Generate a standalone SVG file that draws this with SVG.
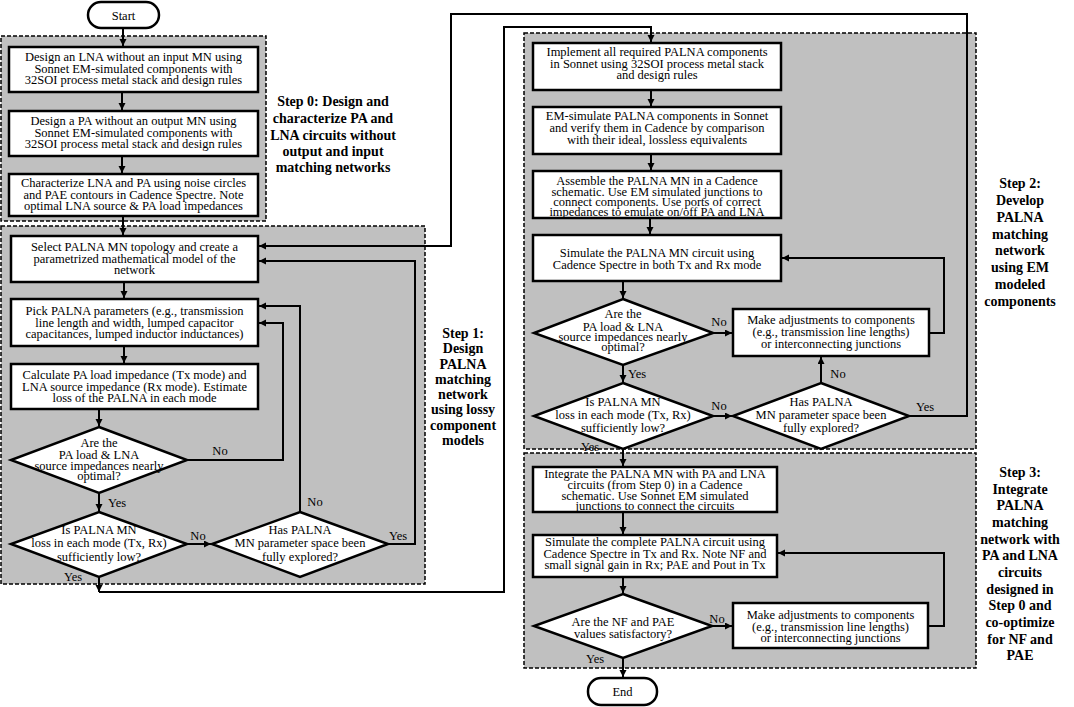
<svg xmlns="http://www.w3.org/2000/svg" width="1074" height="707" viewBox="0 0 1074 707">
<style>
.grp{fill:#c0c0c0;stroke:#000;stroke-width:1.5;stroke-dasharray:4 2}
.box{fill:#fff;stroke:#000;stroke-width:2.5}
.t{font-family:"Liberation Serif","Times New Roman",serif;font-size:12.5px;text-anchor:middle;fill:#000}
.s{font-family:"Liberation Serif","Times New Roman",serif;font-size:14px;font-weight:bold;text-anchor:middle;fill:#000}
.c{fill:none;stroke:#000;stroke-width:2}
</style>
<defs>
<marker id="ah" markerUnits="userSpaceOnUse" markerWidth="8" markerHeight="8" refX="7" refY="3.5" orient="auto">
<path d="M0,0 L7,3.5 L0,7 z" fill="#000"/>
</marker>
</defs>
<rect width="1074" height="707" fill="#fff"/>
<g id="step-groups">
<rect class="grp" x="1" y="36" width="265" height="185"/>
<rect class="grp" x="1" y="226" width="424" height="358"/>
<rect class="grp" x="524" y="33" width="452" height="416"/>
<rect class="grp" x="524" y="453" width="452" height="215"/>
</g>
<g id="step-labels">
<text class="s"><tspan x="333" y="106">Step 0: Design and</tspan><tspan x="333" y="123">characterize PA and</tspan><tspan x="333" y="140">LNA circuits without</tspan><tspan x="333" y="156">output and input</tspan><tspan x="333" y="172">matching networks</tspan></text>
<text class="s"><tspan x="463" y="338">Step 1:</tspan><tspan x="463" y="353">Design</tspan><tspan x="463" y="368.5">PALNA</tspan><tspan x="463" y="384">matching</tspan><tspan x="463" y="399">network</tspan><tspan x="463" y="414">using lossy</tspan><tspan x="463" y="429.5">component</tspan><tspan x="463" y="445">models</tspan></text>
<text class="s"><tspan x="1020" y="188">Step 2:</tspan><tspan x="1020" y="205">Develop</tspan><tspan x="1020" y="222">PALNA</tspan><tspan x="1020" y="238.5">matching</tspan><tspan x="1020" y="255">network</tspan><tspan x="1020" y="272">using EM</tspan><tspan x="1020" y="289">modeled</tspan><tspan x="1020" y="306">components</tspan></text>
<text class="s"><tspan x="1020" y="477">Step 3:</tspan><tspan x="1020" y="493.5">Integrate</tspan><tspan x="1020" y="510">PALNA</tspan><tspan x="1020" y="527">matching</tspan><tspan x="1020" y="543.5">network with</tspan><tspan x="1020" y="560">PA and LNA</tspan><tspan x="1020" y="577">circuits</tspan><tspan x="1020" y="593.5">designed in</tspan><tspan x="1020" y="610">Step 0 and</tspan><tspan x="1020" y="627">co-optimize</tspan><tspan x="1020" y="643.5">for NF and</tspan><tspan x="1020" y="660">PAE</tspan></text>
</g>
<g id="connectors">
<path class="c" d="M123,28 V46" marker-end="url(#ah)"/>
<path class="c" d="M122,92 V110" marker-end="url(#ah)"/>
<path class="c" d="M122,156 V173" marker-end="url(#ah)"/>
<path class="c" d="M123,216 V235" marker-end="url(#ah)"/>
<path class="c" d="M124,282 V298" marker-end="url(#ah)"/>
<path class="c" d="M124,346 V363" marker-end="url(#ah)"/>
<path class="c" d="M99,409 V426" marker-end="url(#ah)"/>
<path class="c" d="M99,493 V511" marker-end="url(#ah)"/>
<path class="c" d="M187,544 H211" marker-end="url(#ah)"/>
<path class="c" d="M187,460 H283 V323 H259" marker-end="url(#ah)"/>
<path class="c" d="M300,512 V306 H259" marker-end="url(#ah)"/>
<path class="c" d="M388,544 H415 V261 H259" marker-end="url(#ah)"/>
<path class="c" d="M99,577 V592" marker-end="url(#ah)"/>
<path class="c" d="M99,592 H504 V27 H651 V42" marker-end="url(#ah)"/>
<path class="c" d="M909,416 H967 V14 H451 V246 H259" marker-end="url(#ah)"/>
<path class="c" d="M651,90 V106" marker-end="url(#ah)"/>
<path class="c" d="M651,154 V170" marker-end="url(#ah)"/>
<path class="c" d="M650,218 V234" marker-end="url(#ah)"/>
<path class="c" d="M623,281 V298" marker-end="url(#ah)"/>
<path class="c" d="M713,333 H732" marker-end="url(#ah)"/>
<path class="c" d="M623,365 V382" marker-end="url(#ah)"/>
<path class="c" d="M713,416 H732" marker-end="url(#ah)"/>
<path class="c" d="M821,383 V357" marker-end="url(#ah)"/>
<path class="c" d="M929,333 H944 V258 H782" marker-end="url(#ah)"/>
<path class="c" d="M623,449 V466" marker-end="url(#ah)"/>
<path class="c" d="M623,512 V534" marker-end="url(#ah)"/>
<path class="c" d="M623,577 V593" marker-end="url(#ah)"/>
<path class="c" d="M712,626 H732" marker-end="url(#ah)"/>
<path class="c" d="M928,626 H944 V553 H778" marker-end="url(#ah)"/>
<path class="c" d="M623,658 V677" marker-end="url(#ah)"/>
</g>
<g id="connector-labels">
<text class="t" x="220" y="455">No</text>
<text class="t" x="117" y="507">Yes</text>
<text class="t" x="198" y="540">No</text>
<text class="t" x="315" y="506">No</text>
<text class="t" x="398" y="540">Yes</text>
<text class="t" x="73" y="581">Yes</text>
<text class="t" x="719" y="326">No</text>
<text class="t" x="637" y="378">Yes</text>
<text class="t" x="719" y="410">No</text>
<text class="t" x="838" y="378">No</text>
<text class="t" x="925" y="411">Yes</text>
<text class="t" x="590" y="451">Yes</text>
<text class="t" x="717" y="623">No</text>
<text class="t" x="595" y="663">Yes</text>
</g>
<g id="start">
<rect class="box" x="88" y="2" width="71" height="26" rx="13"/>
<text class="t" x="123.5" y="19.5">Start</text>
</g>
<g id="s0-design-lna">
<rect class="box" x="9" y="47" width="249" height="45"/>
<text class="t"><tspan x="133.5" y="61">Design an LNA without an input MN using</tspan><tspan x="133.5" y="72.5">Sonnet EM-simulated components with</tspan><tspan x="133.5" y="84">32SOI process metal stack and design rules</tspan></text>
</g>
<g id="s0-design-pa">
<rect class="box" x="9" y="111" width="249" height="45"/>
<text class="t"><tspan x="133.5" y="125">Design a PA without an output MN using</tspan><tspan x="133.5" y="136.5">Sonnet EM-simulated components with</tspan><tspan x="133.5" y="148">32SOI process metal stack and design rules</tspan></text>
</g>
<g id="s0-characterize">
<rect class="box" x="9" y="174" width="249" height="42"/>
<text class="t"><tspan x="133.5" y="187">Characterize LNA and PA using noise circles</tspan><tspan x="133.5" y="198.5">and PAE contours in Cadence Spectre. Note</tspan><tspan x="133.5" y="210">optimal LNA source &amp; PA load impedances</tspan></text>
</g>
<g id="s1-select">
<rect class="box" x="11" y="236" width="247" height="46"/>
<text class="t"><tspan x="134.5" y="251">Select PALNA MN topology and create a</tspan><tspan x="134.5" y="262.5">parametrized mathematical model of the</tspan><tspan x="134.5" y="274">network</tspan></text>
</g>
<g id="s1-pick">
<rect class="box" x="11" y="299" width="247" height="47"/>
<text class="t"><tspan x="134.5" y="315">Pick PALNA parameters (e.g., transmission</tspan><tspan x="134.5" y="326.5">line length and width, lumped capacitor</tspan><tspan x="134.5" y="338">capacitances, lumped inductor inductances)</tspan></text>
</g>
<g id="s1-calc">
<rect class="box" x="11" y="364" width="247" height="45"/>
<text class="t"><tspan x="134.5" y="379">Calculate PA load impedance (Tx mode) and</tspan><tspan x="134.5" y="390.5">LNA source impedance (Rx mode). Estimate</tspan><tspan x="134.5" y="402">loss of the PALNA in each mode</tspan></text>
</g>
<g id="s1-d-optimal">
<polygon class="box" points="99,427 187,460 99,493 11,460"/>
<text class="t"><tspan x="99" y="447">Are the</tspan><tspan x="99" y="459">PA load &amp; LNA</tspan><tspan x="99" y="469.5">source impedances nearly</tspan><tspan x="99" y="480">optimal?</tspan></text>
</g>
<g id="s1-d-loss">
<polygon class="box" points="99,512 187,544 99,577 11,544"/>
<text class="t"><tspan x="99" y="533.5">Is PALNA MN</tspan><tspan x="99" y="547">loss in each mode (Tx, Rx)</tspan><tspan x="99" y="560.5">sufficiently low?</tspan></text>
</g>
<g id="s1-d-explored">
<polygon class="box" points="300,512 388,544 300,577 212,544"/>
<text class="t"><tspan x="300" y="533.5">Has PALNA</tspan><tspan x="300" y="547">MN parameter space been</tspan><tspan x="300" y="560.5">fully explored?</tspan></text>
</g>
<g id="s2-implement">
<rect class="box" x="533" y="43" width="248" height="47"/>
<text class="t"><tspan x="657" y="56">Implement all required PALNA components</tspan><tspan x="657" y="67.5">in Sonnet using 32SOI process metal stack</tspan><tspan x="657" y="79">and design rules</tspan></text>
</g>
<g id="s2-emsim">
<rect class="box" x="533" y="107" width="248" height="47"/>
<text class="t"><tspan x="657" y="119.5">EM-simulate PALNA components in Sonnet</tspan><tspan x="657" y="131.5">and verify them in Cadence by comparison</tspan><tspan x="657" y="143.5">with their ideal, lossless equivalents</tspan></text>
</g>
<g id="s2-assemble">
<rect class="box" x="533" y="171" width="248" height="47"/>
<text class="t"><tspan x="657" y="185">Assemble the PALNA MN in a Cadence</tspan><tspan x="657" y="195.5">schematic. Use EM simulated junctions to</tspan><tspan x="657" y="206">connect components. Use ports of correct</tspan><tspan x="657" y="216">impedances to emulate on/off PA and LNA</tspan></text>
</g>
<g id="s2-simulate">
<rect class="box" x="533" y="235" width="248" height="46"/>
<text class="t"><tspan x="657" y="257">Simulate the PALNA MN circuit using</tspan><tspan x="657" y="268.5">Cadence Spectre in both Tx and Rx mode</tspan></text>
</g>
<g id="s2-d-optimal">
<polygon class="box" points="623,299 713,333 623,365 534,333"/>
<text class="t"><tspan x="623" y="318">Are the</tspan><tspan x="623" y="330.5">PA load &amp; LNA</tspan><tspan x="623" y="341">source impedances nearly</tspan><tspan x="623" y="351">optimal?</tspan></text>
</g>
<g id="s2-adjust">
<rect class="box" x="733" y="309" width="196" height="47"/>
<text class="t"><tspan x="831" y="324">Make adjustments to components</tspan><tspan x="831" y="336">(e.g., transmission line lengths)</tspan><tspan x="831" y="347.5">or interconnecting junctions</tspan></text>
</g>
<g id="s2-d-loss">
<polygon class="box" points="623,383 713,416 623,449 534,416"/>
<text class="t"><tspan x="623" y="406">Is PALNA MN</tspan><tspan x="623" y="419">loss in each mode (Tx, Rx)</tspan><tspan x="623" y="431.5">sufficiently low?</tspan></text>
</g>
<g id="s2-d-explored">
<polygon class="box" points="821,383 909,416 821,449 733,416"/>
<text class="t"><tspan x="821" y="406">Has PALNA</tspan><tspan x="821" y="419">MN parameter space been</tspan><tspan x="821" y="431.5">fully explored?</tspan></text>
</g>
<g id="s3-integrate">
<rect class="box" x="533" y="467" width="244" height="45"/>
<text class="t"><tspan x="655" y="478">Integrate the PALNA MN with PA and LNA</tspan><tspan x="655" y="489">circuits (from Step 0) in a Cadence</tspan><tspan x="655" y="499.5">schematic. Use Sonnet EM simulated</tspan><tspan x="655" y="509.5">junctions to connect the circuits</tspan></text>
</g>
<g id="s3-simulate">
<rect class="box" x="533" y="535" width="244" height="42"/>
<text class="t"><tspan x="655" y="546">Simulate the complete PALNA circuit using</tspan><tspan x="655" y="557.5">Cadence Spectre in Tx and Rx. Note NF and</tspan><tspan x="655" y="569">small signal gain in Rx; PAE and Pout in Tx</tspan></text>
</g>
<g id="s3-d-satisfactory">
<polygon class="box" points="623,594 712,626 623,658 534,626"/>
<text class="t"><tspan x="623" y="626">Are the NF and PAE</tspan><tspan x="623" y="637.5">values satisfactory?</tspan></text>
</g>
<g id="s3-adjust">
<rect class="box" x="733" y="603" width="195" height="45"/>
<text class="t"><tspan x="830.5" y="619">Make adjustments to components</tspan><tspan x="830.5" y="630.5">(e.g., transmission line lengths)</tspan><tspan x="830.5" y="642">or interconnecting junctions</tspan></text>
</g>
<g id="end">
<rect class="box" x="588" y="678" width="69" height="27" rx="13"/>
<text class="t" x="622.5" y="696">End</text>
</g>
</svg>
